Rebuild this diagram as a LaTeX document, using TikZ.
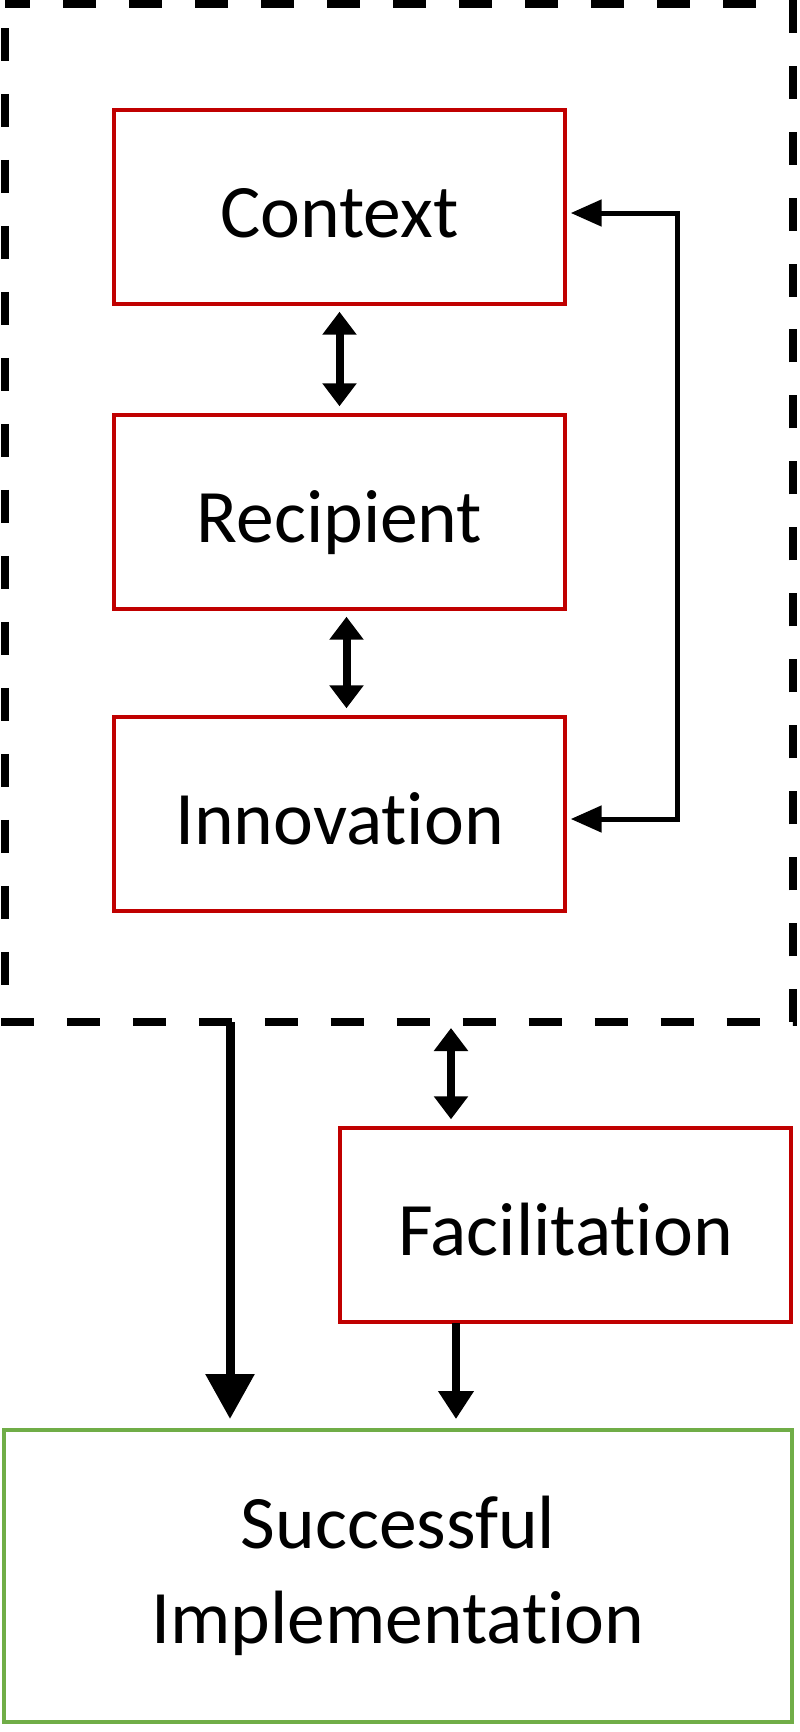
\documentclass[tikz,border=0pt]{standalone}
\usepackage{fontspec}
\setmainfont[Ligatures=NoCommon]{Carlito}
\usetikzlibrary{arrows.meta}
\definecolor{factorred}{RGB}{192,0,0}
\definecolor{outcomegreen}{RGB}{112,173,71}
\tikzset{
  factor/.style={draw=factorred, line width=0.07cm, minimum width=9.02cm,
    minimum height=3.88cm, text height=1.22cm, text depth=0cm,
    font=\fontsize{43}{54}\selectfont},
  outcome/.style={draw=outcomegreen, line width=0.08cm, minimum width=15.78cm,
    minimum height=5.84cm, align=center, font=\fontsize{43}{54}\selectfont},
  groupbox/.style={line width=0.17cm, dash pattern=on 0.66cm off 0.66cm, dash phase=0.84cm},
  biarrow/.style={{Triangle[length=0.46cm,width=0.66cm]}-{Triangle[length=0.46cm,width=0.66cm]},
    line width=0.16cm, shorten <=0.12cm, shorten >=0.14cm},
  fbarrow/.style={{Triangle[length=0.62cm,width=0.52cm]}-{Triangle[length=0.62cm,width=0.52cm]},
    line width=0.1cm, shorten <=0.08cm, shorten >=0.08cm},
  bigarrow/.style={-{Triangle[length=0.9cm,width=0.94cm]}, line width=0.18cm, shorten >=0.18cm},
  downarrow/.style={-{Triangle[length=0.56cm,width=0.68cm]}, line width=0.16cm, shorten >=0.18cm}
}
\begin{document}
\begin{tikzpicture}[x=0.02cm, y=-0.02cm]
  \useasboundingbox (0,0) rectangle (800,1732);

  % Factor boxes at manual coordinates
  \node[factor] (context) at (339.5,207) {Context};
  \node[factor] (recipient) at (339.5,512) {Recipient};
  \node[factor] (innovation) at (339.5,814) {Innovation};
  \node[factor] (facilitation) at (565.5,1225) {Facilitation};
  \node[outcome] (success) at (398,1576) {Successful\\Implementation};

  % Dashed group round the three factors
  \coordinate (gtl) at (5,4);
  \coordinate (gbr) at (793,1022);
  \draw[groupbox] (gtl) rectangle (gbr);

  % Links inside the group
  \draw[biarrow] (context) -- (recipient);
  \draw[biarrow] ([xshift=0.14cm]recipient.south) -- ([xshift=0.14cm]innovation.north);

  \coordinate (fbtop) at (677,213);
  \coordinate (fbbot) at (677,819);
  \draw[fbarrow] (fbtop -| context.east) -- (fbtop) -- (fbbot) -- (fbbot -| innovation.east);

  % Links below the group
  \coordinate (gleft) at (230,1022);
  \coordinate (gright) at (451,1022);
  \coordinate (fdown) at (456,1323);
  \draw[bigarrow] (gleft) -- (gleft |- success.north);
  \draw[biarrow] (gright) -- (gright |- facilitation.north);
  \draw[downarrow] (fdown) -- (fdown |- success.north);
\end{tikzpicture}
\end{document}
